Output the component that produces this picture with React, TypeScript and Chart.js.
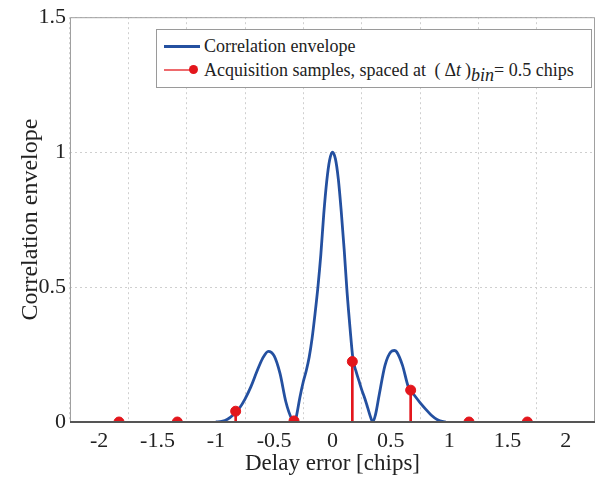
import React, { useEffect, useRef } from "react";
import { Chart, registerables } from "chart.js";
Chart.register(...registerables);

const envelopeX = [-1.0, -0.95, -0.9, -0.85, -0.8, -0.75, -0.7, -0.65, -0.6, -0.55, -0.5, -0.45, -0.4, -0.35, -0.325, -0.31, -0.28, -0.25, -0.225, -0.2, -0.175, -0.15, -0.125, -0.1, -0.075, -0.05, -0.025, 0, 0.025, 0.05, 0.075, 0.1, 0.125, 0.15, 0.175, 0.2, 0.225, 0.25, 0.275, 0.3, 0.325, 0.345, 0.37, 0.4, 0.45, 0.5, 0.53, 0.55, 0.6, 0.65, 0.7, 0.75, 0.8, 0.85, 0.9, 0.95, 0.97];
const envelopeY = [0, 0.002, 0.01, 0.027, 0.05, 0.085, 0.13, 0.185, 0.235, 0.262, 0.245, 0.18, 0.075, 0.012, 0, 0.02, 0.09, 0.15, 0.19, 0.24, 0.31, 0.4, 0.5, 0.62, 0.77, 0.89, 0.97, 1.0, 0.975, 0.9, 0.78, 0.64, 0.48, 0.35, 0.235, 0.19, 0.155, 0.12, 0.09, 0.055, 0.02, 0, 0.03, 0.1, 0.21, 0.26, 0.265, 0.26, 0.21, 0.13, 0.1, 0.072, 0.047, 0.024, 0.008, 0.001, 0];

const sampleX = [-1.83, -1.33, -0.83, -0.33, 0.17, 0.67, 1.17, 1.67];
const sampleY = [0, 0, 0.04, 0.004, 0.224, 0.118, 0, 0];

const xTicks = [-2, -1.5, -1, -0.5, 0, 0.5, 1, 1.5, 2];
const yTicks = [0, 0.5, 1, 1.5];

const BLUE = "#2450a0";
const RED = "#e3161c";
const FONT = "'Liberation Serif', 'Times New Roman', serif";

const frame = {
  id: "frame",
  afterDraw(chart: any) {
    const { ctx, chartArea: a } = chart;
    ctx.save();
    ctx.strokeStyle = "#a0a0a0";
    ctx.lineWidth = 1;
    ctx.beginPath();
    ctx.moveTo(a.left + 0.5, a.bottom);
    ctx.lineTo(a.left + 0.5, a.top + 0.5);
    ctx.lineTo(a.right - 0.5, a.top + 0.5);
    ctx.lineTo(a.right - 0.5, a.bottom);
    ctx.stroke();
    ctx.strokeStyle = "#555";
    ctx.lineWidth = 2;
    ctx.beginPath();
    ctx.moveTo(a.left, a.bottom);
    ctx.lineTo(a.right, a.bottom);
    ctx.stroke();
    ctx.restore();
  },
};

export default function App() {
  const ref = useRef<HTMLCanvasElement>(null);
  useEffect(() => {
    if (!ref.current) return;
    const chart = new Chart(ref.current, {
      type: "line",
      data: {
        datasets: [
          {
            type: "bar",
            data: sampleX.map((x, i) => ({ x, y: sampleY[i] })),
            backgroundColor: RED,
            barThickness: 2,
            order: 2,
          } as any,
          {
            type: "line",
            data: envelopeX.map((x, i) => ({ x, y: envelopeY[i] })),
            borderColor: BLUE,
            borderWidth: 2.8,
            pointRadius: 0,
            cubicInterpolationMode: "monotone",
            order: 1,
          },
          {
            type: "line",
            data: sampleX.map((x, i) => ({ x, y: sampleY[i] })),
            showLine: false,
            pointRadius: 5,
            pointBackgroundColor: RED,
            pointBorderColor: RED,
            order: 0,
          },
        ],
      },
      options: {
        animation: false,
        responsive: false,
        layout: { padding: { top: 15, right: 12, left: 0, bottom: 0 } },
        plugins: { legend: { display: false }, tooltip: { enabled: false } },
        scales: {
          x: {
            type: "linear",
            min: -2,
            max: 2,
            afterFit: (s: any) => { s.height = 64; },
            afterBuildTicks: (s: any) => { s.ticks = xTicks.map((v) => ({ value: v })); },
            ticks: { color: "#222", font: { family: FONT, size: 22 }, padding: 6, maxRotation: 0, autoSkip: false, callback: (v: any) => String(v) },
            grid: { color: "#cfcfcf", drawTicks: false },
            border: { display: false, dash: [2, 3] },
            title: { display: true, text: "Delay error [chips]", color: "#222", font: { family: FONT, size: 23 }, padding: { top: 0, bottom: 8 } },
          },
          y: {
            type: "linear",
            min: 0,
            max: 1.5,
            afterFit: (s: any) => { s.width = 70; },
            afterBuildTicks: (s: any) => { s.ticks = yTicks.map((v) => ({ value: v })); },
            ticks: { color: "#222", font: { family: FONT, size: 22 }, padding: 4, callback: (v: any) => String(v) },
            grid: { color: "#cfcfcf", drawTicks: false },
            border: { display: false, dash: [2, 3] },
            title: { display: true, text: "Correlation envelope", color: "#222", font: { family: FONT, size: 24 }, padding: { top: 16, bottom: 0 } },
          },
        },
      },
      plugins: [frame],
    } as any);
    return () => chart.destroy();
  }, []);

  return (
    <div style={{ position: "absolute", left: 0, top: 0, width: 607, height: 486, background: "#fff" }}>
      <canvas ref={ref} width={607} height={486} style={{ display: "block" }} />
      <div
        style={{
          position: "absolute", left: 156, top: 29, width: 434, height: 57,
          border: "1px solid #9a9a9a", background: "#fff",
          fontFamily: FONT, fontSize: 18, color: "#222",
        }}
      >
        <div style={{ position: "absolute", left: 7, top: 15, width: 36, height: 2.5, background: BLUE }} />
        <div style={{ position: "absolute", left: 47, top: 5, whiteSpace: "nowrap", lineHeight: "22px" }}>Correlation envelope</div>
        <div style={{ position: "absolute", left: 7, top: 39, width: 30, height: 1.5, background: "#ee6a6d" }} />
        <div style={{ position: "absolute", left: 32, top: 35, width: 9, height: 9, borderRadius: "50%", background: RED }} />
        <div style={{ position: "absolute", left: 47, top: 29, whiteSpace: "nowrap", lineHeight: "22px" }}>
          Acquisition samples, spaced at <span style={{ marginLeft: 4 }}>(</span><span style={{ margin: "0 4px" }}>Δ<i>t</i></span>)<sub style={{ fontStyle: "italic", fontSize: 18, verticalAlign: "-5px", lineHeight: 0 }}>bin</sub>= 0.5 chips
        </div>
      </div>
    </div>
  );
}
